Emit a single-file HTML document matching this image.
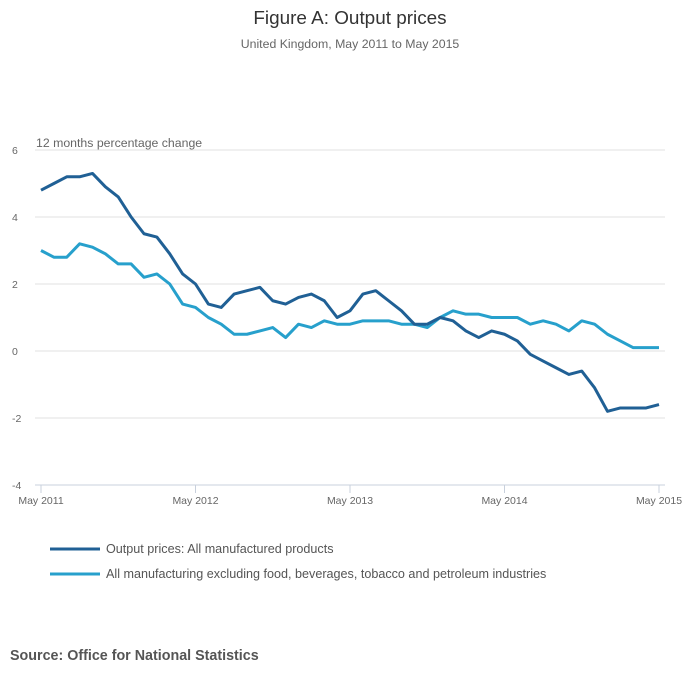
<!DOCTYPE html>
<html><head><meta charset="utf-8"><style>
body{margin:0;background:#fff;font-family:"Liberation Sans",sans-serif;}
svg text{font-family:"Liberation Sans",sans-serif;}
</style></head><body>
<svg width="700" height="682" xmlns="http://www.w3.org/2000/svg">
<text x="350" y="24" text-anchor="middle" font-size="18.9" fill="#333">Figure A: Output prices</text>
<text x="350" y="48" text-anchor="middle" font-size="12.3" fill="#666">United Kingdom, May 2011 to May 2015</text>
<text x="36" y="147" font-size="12.3" fill="#666">12 months percentage change</text>
<g id="grid"></g><g id="xaxis"></g><g id="lines"></g>
<g>
<line x1="50" y1="549" x2="100" y2="549" stroke="#206095" stroke-width="3"/>
<text x="106" y="553" font-size="12.6" fill="#555">Output prices: All manufactured products</text>
<line x1="50" y1="574" x2="100" y2="574" stroke="#27a0cc" stroke-width="3"/>
<text x="106" y="578" font-size="12.6" fill="#555">All manufacturing excluding food, beverages, tobacco and petroleum industries</text>
</g>
<text x="10" y="660" font-size="14.3" font-weight="bold" fill="#555">Source: Office for National Statistics</text>
</svg>
<script>
const yTicks=[6,4,2,0,-2,-4];
const xTickLabels=["May 2011","May 2012","May 2013","May 2014","May 2015"];
const seriesOutput=[4.8,5.0,5.2,5.2,5.3,4.9,4.6,4.0,3.5,3.4,2.9,2.3,2.0,1.4,1.3,1.7,1.8,1.9,1.5,1.4,1.6,1.7,1.5,1.0,1.2,1.7,1.8,1.5,1.2,0.8,0.8,1.0,0.9,0.6,0.4,0.6,0.5,0.3,-0.1,-0.3,-0.5,-0.7,-0.6,-1.1,-1.8,-1.7,-1.7,-1.7,-1.6];
const seriesExcl=[3.0,2.8,2.8,3.2,3.1,2.9,2.6,2.6,2.2,2.3,2.0,1.4,1.3,1.0,0.8,0.5,0.5,0.6,0.7,0.4,0.8,0.7,0.9,0.8,0.8,0.9,0.9,0.9,0.8,0.8,0.7,1.0,1.2,1.1,1.1,1.0,1.0,1.0,0.8,0.9,0.8,0.6,0.9,0.8,0.5,0.3,0.1,0.1,0.1];
const NS="http://www.w3.org/2000/svg";
const x=i=>41+i*(618/48);
const y=v=>351-v*33.5;
const grid=document.getElementById('grid');
yTicks.forEach(t=>{
 if(t!==-4){const l=document.createElementNS(NS,'line');
 
 
 l.setAttribute('x1',35);l.setAttribute('x2',665);l.setAttribute('y1',y(t));l.setAttribute('y2',y(t));
 l.setAttribute('stroke','#e0e0e0');grid.appendChild(l);}
 const tx=document.createElementNS(NS,'text');
 
 
 tx.setAttribute('x',12);tx.setAttribute('y',y(t)+4);tx.setAttribute('font-size','10.5');tx.setAttribute('fill','#666');
 tx.textContent=t;grid.appendChild(tx);
});
const xa=document.getElementById('xaxis');
const base=document.createElementNS(NS,'line');


base.setAttribute('x1',35);base.setAttribute('x2',665);base.setAttribute('y1',y(-4));base.setAttribute('y2',y(-4));
base.setAttribute('stroke','#c8d0dc');xa.appendChild(base);
xTickLabels.forEach((s,k)=>{
 const xx=x(k*12);
 const l=document.createElementNS(NS,'line');
 
 
 l.setAttribute('x1',xx);l.setAttribute('x2',xx);l.setAttribute('y1',y(-4));l.setAttribute('y2',y(-4)+8);
 l.setAttribute('stroke','#c8d0dc');xa.appendChild(l);
 const tx=document.createElementNS(NS,'text');
 
 
 tx.setAttribute('x',xx);tx.setAttribute('y',y(-4)+19);tx.setAttribute('font-size','10.5');tx.setAttribute('fill','#666');tx.setAttribute('text-anchor','middle');
 tx.textContent=s;xa.appendChild(tx);
});
const lines=document.getElementById('lines');
function draw(data,color,name){
 const p=document.createElementNS(NS,'polyline');
 
 
 p.setAttribute('points',data.map((v,i)=>x(i)+','+y(v)).join(' '));
 p.setAttribute('fill','none');p.setAttribute('stroke',color);p.setAttribute('stroke-width','3');p.setAttribute('stroke-linejoin','round');
 lines.appendChild(p);
}
draw(seriesExcl,'#27a0cc','line-excluding-food');
draw(seriesOutput,'#206095','line-output-prices');
</script>
</body></html>
